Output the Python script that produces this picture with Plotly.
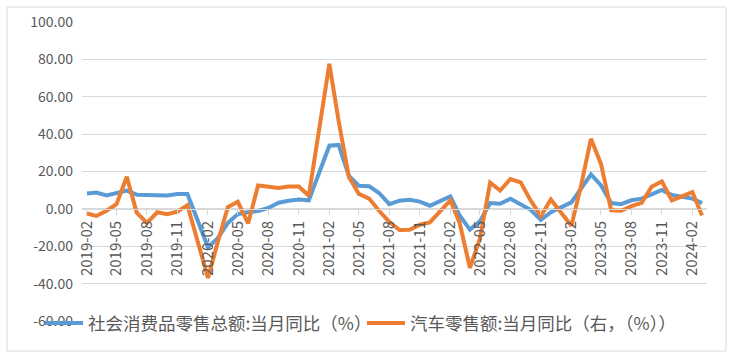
import plotly.graph_objects as go

# ---- data ----
all_months = [f"{y}-{m:02d}" for y in range(2019, 2025) for m in range(1, 13)]
all_months = all_months[all_months.index("2019-02"):all_months.index("2024-03") + 1]
months = [m for m in all_months if not m.endswith("-01")]  # Jan merged into Feb

retail_yoy = [8.2, 8.7, 7.2, 8.6, 9.8, 7.6, 7.5, 7.8, 7.2, 8.0, 8.0,
              -20.5, -15.8, -7.5, -2.8, -1.8, -1.1, 0.5, 3.3, 4.3, 5.0, 4.6,
              33.8, 34.2, 17.7, 12.4, 12.1, 8.5, 2.5, 4.4, 4.9, 3.9, 1.7,
              6.7, -3.5, -11.1, -6.7, 3.1, 2.7, 5.4, 2.5, -0.5, -5.9, -1.8,
              3.5, 10.6, 18.4, 12.7, 3.1, 2.5, 4.6, 5.5, 7.6, 10.1, 7.4,
              5.5, 3.1]

auto_yoy = [-2.5, -3.8, -1.0, 2.5, 17.2, -2.0, -7.5, -1.8, -2.8, -1.5, 2.0,
            -37.0, -18.1, 1.0, 3.8, -7.8, 12.5, 12.0, 11.2, 12.0, 12.0, 7.0,
            77.6, 47.0, 17.0, 8.0, 5.5, -1.0, -7.0, -11.3, -11.2, -8.5, -7.2,
            4.5, -7.5, -31.6, -16.0, 14.0, 9.8, 16.0, 14.2, 4.5, -3.8, 5.0,
            -9.0, 11.5, 37.5, 24.2, -0.8, -1.0, 1.5, 3.2, 11.8, 14.7, 4.5,
            9.0, -3.5]

series_names = ["社会消费品零售总额:当月同比（%）", "汽车零售额:当月同比（右，（%））"]
series_colors = ["#5B9BD5", "#ED7D31"]
legend_ids = ["legend", "legend2"]

y_ticks = [100, 80, 60, 40, 20, 0, -20, -40, -60]
x_tick_labels = all_months[::3]

FONT = "Noto Sans CJK SC"
GRID = "#d9d9d9"
TXT = "#595959"

fig = go.Figure()
for name, vals, col, lg in zip(series_names, [retail_yoy, auto_yoy], series_colors, legend_ids):
    fig.add_trace(go.Scatter(x=months, y=vals, name=name, mode="lines",
                             line=dict(color=col, width=4), legend=lg))

legend_common = dict(orientation="h", xref="container", yref="container",
                     y=1 - 323 / 357, xanchor="left", yanchor="middle",
                     bgcolor="rgba(0,0,0,0)",
                     font=dict(size=17.5, color=TXT, family=FONT), itemwidth=38)

fig.update_layout(
    width=735, height=357,
    margin=dict(l=82, r=28, t=22, b=36, autoexpand=False),
    paper_bgcolor="white", plot_bgcolor="white",
    font=dict(family=FONT, color=TXT, size=14),
    showlegend=True,
    legend=dict(x=40 / 735, **legend_common),
    legend2=dict(x=362 / 735, **legend_common),
    xaxis=dict(type="date", range=["2019-01-17", "2024-03-16"],
               anchor="free", position=60 / 160, automargin=False,
               tickvals=x_tick_labels, ticktext=x_tick_labels,
               tickangle=-90, ticks="outside", ticklen=5, tickcolor=GRID,
               showline=True, linecolor=GRID, linewidth=1,
               showgrid=False, zeroline=False,
               tickfont=dict(size=15, color=TXT, family=FONT)),
    yaxis=dict(range=[-60, 100], tickvals=y_ticks, automargin=False,
               ticktext=[f"{v:.2f}" for v in y_ticks],
               showgrid=True, gridcolor=GRID, gridwidth=1, zeroline=False,
               showline=False, ticklabelstandoff=8,
               tickfont=dict(size=14, color=TXT, family=FONT)),
    shapes=[dict(type="rect", xref="paper", yref="paper",
                 x0=(7 - 82) / 625, x1=(726 - 82) / 625,
                 y0=(321 - 351) / 299, y1=(321 - 7) / 299,
                 line=dict(color=GRID, width=1), layer="above")],
)

fig.write_html("out.html", config={"displayModeBar": False},
               post_script="document.body.style.margin='0';")
